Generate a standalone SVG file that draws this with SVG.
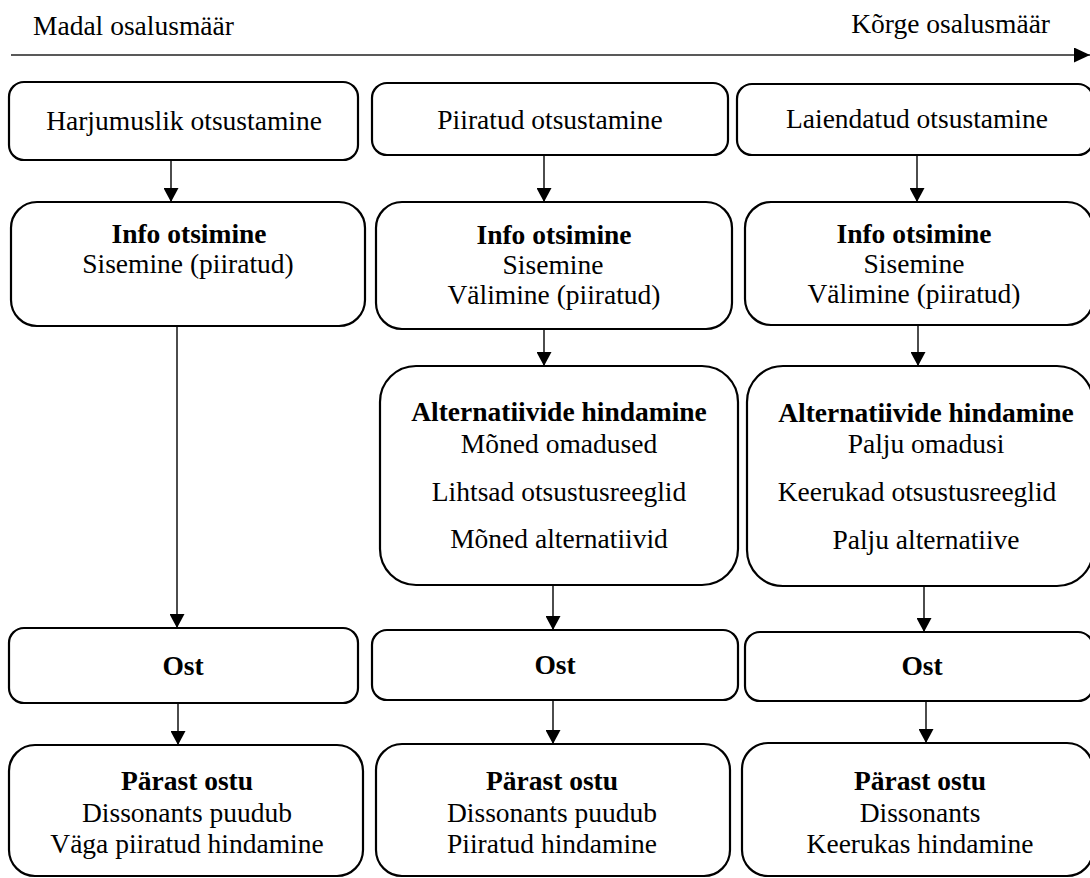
<svg xmlns="http://www.w3.org/2000/svg" width="1090" height="878" viewBox="0 0 1090 878">
<style>
text{font-family:"Liberation Serif",Tinos,"Times New Roman",Times,"Nimbus Roman","Nimbus Roman No9 L","Noto Serif","DejaVu Serif",serif;font-size:27.5px;fill:#000;text-anchor:middle}
.b{font-weight:bold}
.box{fill:#fff;stroke:#000;stroke-width:2.2}
.con{stroke:#000;stroke-width:1.4;fill:none;marker-end:url(#ah)}
</style>
<defs>
<marker id="ah" viewBox="0 0 14 15" refX="14" refY="7.5" markerWidth="14" markerHeight="15" markerUnits="userSpaceOnUse" orient="auto">
<path d="M0,0 L14,7.5 L0,15 z" fill="#000"/>
</marker>
<marker id="ah2" viewBox="0 0 16 15" refX="16" refY="7.5" markerWidth="16" markerHeight="15" markerUnits="userSpaceOnUse" orient="auto">
<path d="M0,0 L16,7.5 L0,15 z" fill="#000"/>
</marker>
</defs>
<rect width="1090" height="878" fill="#fff"/>
<g id="axis">
<line x1="11" y1="55" x2="1090" y2="55" stroke="#595959" stroke-width="2" marker-end="url(#ah2)"/>
<text x="33" y="35" style="text-anchor:start">Madal osalusmäär</text>
<text x="1050" y="33" style="text-anchor:end">Kõrge osalusmäär</text>
</g>
<g id="connectors">
<line class="con" x1="171" y1="160" x2="171" y2="202"/>
<line class="con" x1="177" y1="326" x2="177" y2="628"/>
<line class="con" x1="178" y1="703" x2="178" y2="745"/>
<line class="con" x1="544" y1="155" x2="544" y2="202"/>
<line class="con" x1="544" y1="329" x2="544" y2="366"/>
<line class="con" x1="553" y1="585" x2="553" y2="630"/>
<line class="con" x1="553" y1="700" x2="553" y2="744"/>
<line class="con" x1="917" y1="155" x2="917" y2="202"/>
<line class="con" x1="918" y1="325" x2="918" y2="366"/>
<line class="con" x1="924" y1="586" x2="924" y2="632"/>
<line class="con" x1="926" y1="701" x2="926" y2="743"/>
</g>
<g id="harjumuslik">
<rect class="box" x="9" y="82" width="349" height="78" rx="15"/>
<text x="184" y="130">Harjumuslik otsustamine</text>
</g>
<g id="piiratud">
<rect class="box" x="372" y="83" width="356" height="72" rx="15"/>
<text x="550" y="129">Piiratud otsustamine</text>
</g>
<g id="laiendatud">
<rect class="box" x="737" y="84" width="356" height="71" rx="15"/>
<text x="917" y="128">Laiendatud otsustamine</text>
</g>
<g id="info1">
<rect class="box" x="11" y="202" width="354" height="124" rx="26"/>
<text class="b" x="189" y="243">Info otsimine</text>
<text x="188" y="273">Sisemine (piiratud)</text>
</g>
<g id="info2">
<rect class="box" x="376" y="202" width="356" height="127" rx="26"/>
<text class="b" x="554" y="244">Info otsimine</text>
<text x="553" y="274">Sisemine</text>
<text x="554" y="304">Välimine (piiratud)</text>
</g>
<g id="info3">
<rect class="box" x="745" y="202" width="348" height="123" rx="26"/>
<text class="b" x="914" y="243">Info otsimine</text>
<text x="914" y="273">Sisemine</text>
<text x="914" y="303">Välimine (piiratud)</text>
</g>
<g id="alt2">
<rect class="box" x="380" y="366" width="358" height="219" rx="36"/>
<text class="b" x="559" y="421">Alternatiivide hindamine</text>
<text x="559" y="453">Mõned omadused</text>
<text x="559" y="501">Lihtsad otsustusreeglid</text>
<text x="559" y="548">Mõned alternatiivid</text>
</g>
<g id="alt3">
<rect class="box" x="747" y="366" width="346" height="220" rx="36"/>
<text class="b" x="926" y="422">Alternatiivide hindamine</text>
<text x="926" y="453">Palju omadusi</text>
<text x="917" y="501">Keerukad otsustusreeglid</text>
<text x="926" y="549">Palju alternatiive</text>
</g>
<g id="ost1">
<rect class="box" x="9" y="628" width="349" height="75" rx="15"/>
<text class="b" x="183" y="675">Ost</text>
</g>
<g id="ost2">
<rect class="box" x="372" y="630" width="366" height="70" rx="15"/>
<text class="b" x="555" y="674">Ost</text>
</g>
<g id="ost3">
<rect class="box" x="745" y="632" width="348" height="69" rx="15"/>
<text class="b" x="922" y="675">Ost</text>
</g>
<g id="parast1">
<rect class="box" x="9" y="745" width="354" height="131" rx="26"/>
<text class="b" x="187" y="790">Pärast ostu</text>
<text x="187" y="822">Dissonants puudub</text>
<text x="187" y="853">Väga piiratud hindamine</text>
</g>
<g id="parast2">
<rect class="box" x="376" y="744" width="354" height="132" rx="26"/>
<text class="b" x="552" y="790">Pärast ostu</text>
<text x="552" y="822">Dissonants puudub</text>
<text x="552" y="853">Piiratud hindamine</text>
</g>
<g id="parast3">
<rect class="box" x="742" y="743" width="351" height="133" rx="26"/>
<text class="b" x="920" y="790">Pärast ostu</text>
<text x="920" y="822">Dissonants</text>
<text x="920" y="853">Keerukas hindamine</text>
</g>
</svg>
